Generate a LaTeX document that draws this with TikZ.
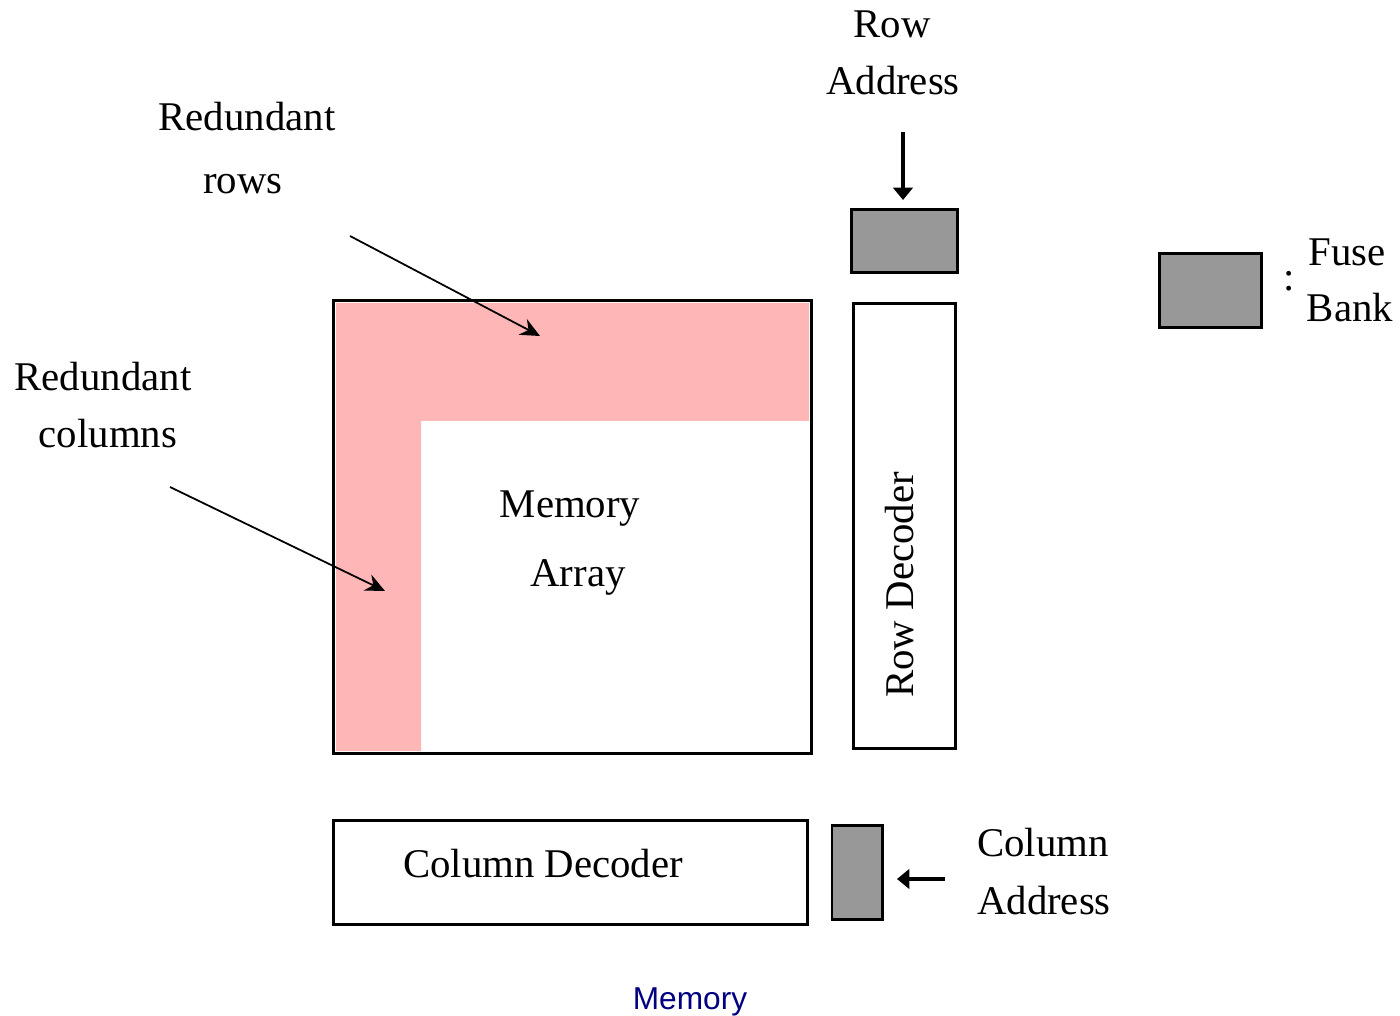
\documentclass[tikz,border=0pt]{standalone}
\usepackage{fontspec}
\setmainfont{Liberation Serif}
\newfontfamily\capfont{Liberation Sans}
\usetikzlibrary{arrows.meta}
\definecolor{spare}{RGB}{255,182,182}
\definecolor{fusegray}{RGB}{152,152,152}
\definecolor{capblue}{RGB}{0,0,128}
\begin{document}
\begin{tikzpicture}[x=0.01cm,y=-0.01cm,
  lbl/.style={font=\fontsize{11.6}{13}\selectfont, inner sep=0pt},
  frame/.style={draw=black, line width=0.85pt, inner sep=0pt},
  fuse/.style={draw=black, line width=0.85pt, fill=fusegray, inner sep=0pt},
  pointer/.style={line width=0.5pt, -{Stealth[length=5.5pt,width=5pt]}},
  feed/.style={line width=0.9pt, -{Triangle[length=3.5pt,width=5.5pt]}}]
\useasboundingbox (0,0) rectangle (1400,1016);

% memory array with spare rows and columns
\fill[spare] (336,303) -- (809,303) -- (809,421) -- (421,421) -- (421,751) -- (336,751) -- cycle;
\node[frame, minimum width=4.77cm, minimum height=4.52cm] (array) at (572.5,527) {};
\node[lbl] (mem) at (570,509) {Memory};
\node[lbl] (arr) at (578,577) {Array};

% row side: fuse bank and decoder
\node[fuse, minimum width=1.05cm, minimum height=0.62cm] (rowfuse) at (904.5,241) {};
\node[frame, minimum width=1.01cm, minimum height=4.44cm] (rowdecbox) at (904.5,526) {};
\node[lbl, rotate=90] (rowdec) at (900,585) {Row Decoder};

% column side: decoder and fuse bank
\node[frame, minimum width=4.73cm, minimum height=1.03cm] (coldecbox) at (570.5,872.5) {};
\node[lbl] (coldec) at (543,864) {Column Decoder};
\node[fuse, minimum width=0.5cm, minimum height=0.93cm] (colfuse) at (857,872.5) {};

% address inputs
\coordinate (rowaddrIn) at (903,132);
\coordinate (rowfuseTop) at (903,200);
\draw[feed] (rowaddrIn) -- (rowfuseTop);
\node[lbl] (rowA) at (892,24) {Row};
\node[lbl] (rowB) at (893,81) {Address};

\coordinate (coladdrIn) at (945,879);
\coordinate (colfuseRight) at (897,879);
\draw[feed] (coladdrIn) -- (colfuseRight);
\node[lbl] (colA) at (1043,843) {Column};
\node[lbl] (colB) at (1044,901) {Address};

% labels for the spare lines
\node[lbl] (rrA) at (247,117) {Redundant};
\node[lbl] (rrB) at (243,184) {rows};
\coordinate (rrFrom) at (350,236);
\coordinate (rrTo) at (540,336);
\draw[pointer] (rrFrom) -- (rrTo);

\node[lbl] (rcA) at (103,377) {Redundant};
\node[lbl] (rcB) at (108,434) {columns};
\coordinate (rcFrom) at (170,487);
\coordinate (rcTo) at (385,591);
\draw[pointer] (rcFrom) -- (rcTo);

% legend
\node[fuse, minimum width=1.01cm, minimum height=0.73cm] (legendfuse) at (1210.5,290.5) {};
\node[lbl] (colon) at (1289,281) {:};
\node[lbl] (fuseA) at (1347,252) {Fuse};
\node[lbl] (fuseB) at (1350,308) {Bank};

% caption
\node[font=\capfont\fontsize{9}{11}\selectfont, text=capblue, inner sep=0pt] (caption) at (690,1002) {Memory};
\end{tikzpicture}
\end{document}
